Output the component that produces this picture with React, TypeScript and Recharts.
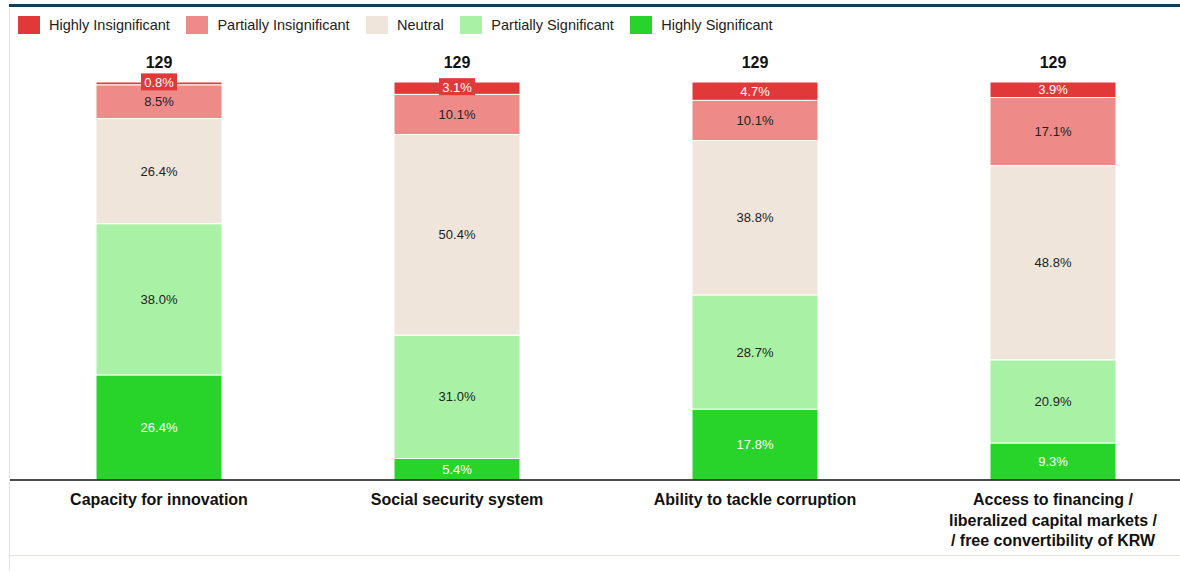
import { Bar, BarChart, LabelList, XAxis, YAxis } from "recharts"

const categories = [
  "Capacity for innovation",
  "Social security system",
  "Ability to tackle corruption",
  "Access to financing /\nliberalized capital markets /\n/ free convertibility of KRW",
]
const highlyInsignificant = [0.8, 3.1, 4.7, 3.9]
const partiallyInsignificant = [8.5, 10.1, 10.1, 17.1]
const neutral = [26.4, 50.4, 38.8, 48.8]
const partiallySignificant = [38.0, 31.0, 28.7, 20.9]
const highlySignificant = [26.4, 5.4, 17.8, 9.3]
const totals = [129, 129, 129, 129]

const series = [
  { key: "hs", name: "Highly Significant", color: "#29d42a", text: "#ffffff", values: highlySignificant },
  { key: "ps", name: "Partially Significant", color: "#a9f1a5", text: "#222222", values: partiallySignificant },
  { key: "ne", name: "Neutral", color: "#efe5da", text: "#222222", values: neutral },
  { key: "pi", name: "Partially Insignificant", color: "#ee8a88", text: "#222222", values: partiallyInsignificant },
  { key: "hi", name: "Highly Insignificant", color: "#e13839", text: "#ffffff", values: highlyInsignificant },
]

const legendOrder = ["hi", "pi", "ne", "ps", "hs"]

const data = categories.map((name, i) => {
  const row: Record<string, any> = { name, total: totals[i] }
  series.forEach((s) => (row[s.key] = s.values[i]))
  return row
})

const FONT = "'Liberation Sans', Arial, sans-serif"

function makeSegmentLabel(s: (typeof series)[number]) {
  return (props: any) => {
    const { x, y, width, height, value } = props
    const cx = x + width / 2
    const cy = y + height / 2
    // tiny segments get a coloured box behind the label
    const boxed = s.key === "hi" && height < 14
    return (
      <g>
        {boxed && <rect x={cx - 18} y={cy - 10} width={36} height={17} fill={s.color} />}
        <text
          x={cx}
          y={boxed ? cy - 1 : cy}
          textAnchor="middle"
          dominantBaseline="central"
          fontFamily={FONT}
          fontSize={13}
          fill={s.text}
        >
          {Number(value).toFixed(1)}%
        </text>
      </g>
    )
  }
}

const TotalLabel = (props: any) => {
  const { x, y, width, index } = props
  return (
    <text x={x + width / 2} y={y - 14} textAnchor="middle" fontFamily={FONT} fontSize={16} fontWeight="bold" fill="#111">
      {totals[index]}
    </text>
  )
}

const CategoryTick = (props: any) => {
  const { x, y, payload } = props
  const lines = String(payload.value).split("\n")
  return (
    <g>
      {lines.map((line, i) => (
        <text
          key={i}
          x={x}
          y={y + 17 + i * 20.5}
          textAnchor="middle"
          fontFamily={FONT}
          fontSize={16}
          fontWeight="bold"
          fill="#111"
        >
          {line}
        </text>
      ))}
    </g>
  )
}

export default function App() {
  return (
    <div
      style={{
        position: "absolute",
        left: 0,
        top: 0,
        width: 1180,
        height: 572,
        overflow: "hidden",
        background: "#fff",
        fontFamily: FONT,
      }}
    >
      <div style={{ position: "absolute", left: 9, top: 4, width: 1171, height: 3, background: "#0f3e56" }} />
      <div style={{ position: "absolute", left: 9, top: 8, width: 1, height: 562, background: "#e6e3dc" }} />
      <div style={{ position: "absolute", left: 9, top: 555, width: 1171, height: 1, background: "#e6e3dc" }} />

      <div style={{ position: "absolute", left: 18, top: 16, display: "flex", alignItems: "center" }}>
        {legendOrder.map((k) => {
          const s = series.find((d) => d.key === k)!
          return (
            <div key={k} style={{ display: "flex", alignItems: "center", marginRight: 16.5 }}>
              <div style={{ width: 22, height: 18, background: s.color, marginRight: 9 }} />
              <span style={{ fontSize: 14.5, color: "#222", lineHeight: "18px" }}>{s.name}</span>
            </div>
          )
        })}
      </div>

      <div style={{ position: "absolute", left: 0, top: 0 }}>
        <BarChart
          width={1210}
          height={572}
          data={data}
          margin={{ top: 82, right: 8, bottom: 12, left: 10 }}
          barSize={126}
        >
          <XAxis
            dataKey="name"
            axisLine={{ stroke: "#111", strokeWidth: 1.5 }}
            tickLine={false}
            tick={<CategoryTick />}
            interval={0}
            height={80}
          />
          <YAxis hide domain={[0, 100]} allowDataOverflow />
          {series.map((s) => (
            <Bar
              key={s.key}
              dataKey={s.key}
              name={s.name}
              stackId="a"
              fill={s.color}
              stroke="#ffffff"
              strokeWidth={1}
              isAnimationActive={false}
            >
              <LabelList dataKey={s.key} content={makeSegmentLabel(s)} />
              {s.key === "hi" && <LabelList dataKey="total" content={TotalLabel} />}
            </Bar>
          ))}
        </BarChart>
      </div>
    </div>
  )
}
